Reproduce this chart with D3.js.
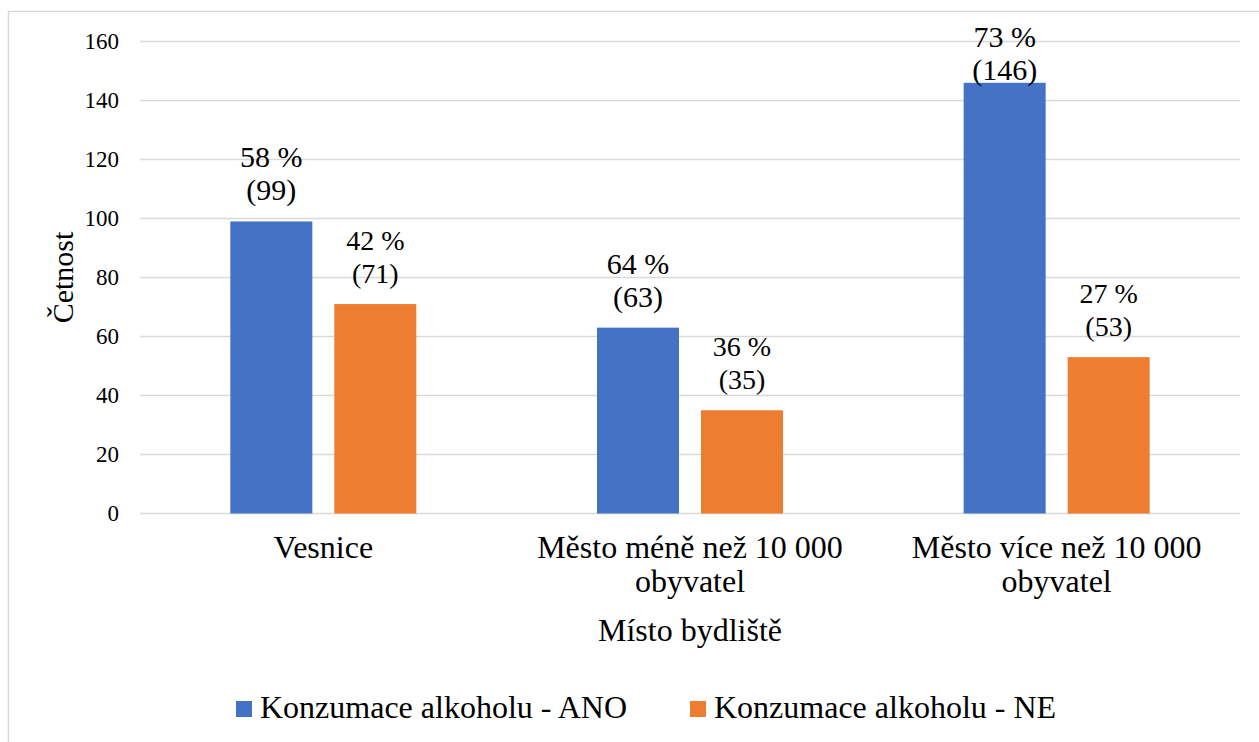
<!DOCTYPE html>
<html>
<head>
<meta charset="utf-8">
<script src="https://cdn.jsdelivr.net/npm/d3@7"></script>
<style>
    body { margin: 0; background: #fff; }
    text { font-family: "Liberation Serif", "Times New Roman", serif; fill: #000; }
</style>
</head>
<body>
<div id="chart"></div>
<script>
// --- Data ---
const categories = ['Vesnice', 'Město méně než 10 000 obyvatel', 'Město více než 10 000 obyvatel'];
const seriesNames = ['Konzumace alkoholu - ANO', 'Konzumace alkoholu - NE'];
const countsAno = [99, 63, 146];
const countsNe = [71, 35, 53];
const pctAno = [58, 64, 73];
const pctNe = [42, 36, 27];
const yTicks = [0, 20, 40, 60, 80, 100, 120, 140, 160];
const colors = ['#4472c4', '#ed7d31'];

const width = 1259, height = 742;
const margin = { top: 41.5, right: 19, bottom: 228.5, left: 140 };
const plotW = width - margin.left - margin.right;
const plotH = height - margin.top - margin.bottom;

const svg = d3.select('#chart')
    .append('svg')
    .attr('width', width)
    .attr('height', height);

// chart frame
svg.append('rect')
    .attr('x', 8.5).attr('y', 11.5)
    .attr('width', width + 20).attr('height', height + 20)
    .attr('fill', 'none')
    .attr('stroke', '#d9d9d9')
    .attr('stroke-width', 1.5);

const g = svg.append('g').attr('transform', `translate(${margin.left},${margin.top})`);

const x = d3.scaleBand().domain(categories).range([0, plotW]).padding(0);
const y = d3.scaleLinear().domain([0, 160]).range([plotH, 0]);

// bars within a group: 82px wide, 22px gap
const groupW = 186;
const xs = d3.scaleBand()
    .domain([0, 1])
    .range([(x.bandwidth() - groupW) / 2, (x.bandwidth() + groupW) / 2])
    .paddingInner(22 / 104);

// gridlines
g.selectAll('.grid')
    .data(yTicks)
    .enter()
    .append('line')
    .attr('x1', 0).attr('x2', plotW)
    .attr('y1', d => y(d)).attr('y2', d => y(d))
    .attr('stroke', '#d9d9d9')
    .attr('stroke-width', 1.5);

// y axis labels
const yAxis = g.append('g')
    .call(d3.axisLeft(y).tickValues(yTicks).tickSize(0).tickPadding(21));
yAxis.select('.domain').remove();
yAxis.selectAll('text')
    .attr('font-family', '"Liberation Serif", serif')
    .style('font-size', '23px')
    .attr('fill', '#000');

const rows = categories.map((c, i) => ({
    cat: c,
    vals: [
        { s: 0, v: countsAno[i], p: pctAno[i] },
        { s: 1, v: countsNe[i], p: pctNe[i] }
    ]
}));

const groups = g.selectAll('.grp')
    .data(rows)
    .enter()
    .append('g')
    .attr('transform', d => `translate(${x(d.cat)},0)`);

groups.selectAll('rect')
    .data(d => d.vals)
    .enter()
    .append('rect')
    .attr('x', d => xs(d.s))
    .attr('width', xs.bandwidth())
    .attr('y', d => y(d.v))
    .attr('height', d => plotH - y(d.v))
    .attr('fill', d => colors[d.s]);

// data labels (two lines), kept inside chart area
const labels = groups.selectAll('.lbl')
    .data(d => d.vals)
    .enter()
    .append('text')
    .attr('text-anchor', 'middle')
    .style('font-size', d => d.s === 0 ? '30px' : '28px');

labels.each(function (d) {
    const cx = xs(d.s) + xs.bandwidth() / 2;
    const base2 = Math.max(y(d.v) - 21, 80 - margin.top);
    const t = d3.select(this);
    t.append('tspan').attr('x', cx).attr('y', base2 - 33).text(d.p + ' %');
    t.append('tspan').attr('x', cx).attr('y', base2).text('(' + d.v + ')');
});

// category labels with wrapping
function wrapWords(str, maxW, size) {
    const tmp = svg.append('text').style('font-size', size + 'px');
    const words = str.split(' ');
    const lines = [];
    let line = [];
    words.forEach(w => {
        line.push(w);
        tmp.text(line.join(' '));
        if (tmp.node().getComputedTextLength() > maxW && line.length > 1) {
            line.pop();
            lines.push(line.join(' '));
            line = [w];
        }
    });
    lines.push(line.join(' '));
    tmp.remove();
    return lines;
}

categories.forEach(c => {
    const lines = wrapWords(c, 340, 32);
    const t = g.append('text')
        .attr('text-anchor', 'middle')
        .style('font-size', '32px');
    lines.forEach((l, i) => {
        t.append('tspan')
            .attr('x', x(c) + x.bandwidth() / 2)
            .attr('y', plotH + 44 + i * 34)
            .text(l);
    });
});

// axis titles
g.append('text')
    .attr('x', plotW / 2)
    .attr('y', plotH + 127)
    .attr('text-anchor', 'middle')
    .style('font-size', '32px')
    .text('Místo bydliště');

svg.append('text')
    .attr('transform', `translate(73,${margin.top + plotH / 2}) rotate(-90)`)
    .attr('text-anchor', 'middle')
    .style('font-size', '30px')
    .text('Četnost');

// legend
const legendX = [236, 690];
const legend = svg.selectAll('.leg')
    .data(seriesNames)
    .enter()
    .append('g')
    .attr('transform', (d, i) => `translate(${legendX[i]},701)`);

legend.append('rect')
    .attr('width', 16).attr('height', 16)
    .attr('fill', (d, i) => colors[i]);

legend.append('text')
    .attr('x', 24)
    .attr('y', 17)
    .style('font-size', '32px')
    .text(d => d);
</script>
</body>
</html>
